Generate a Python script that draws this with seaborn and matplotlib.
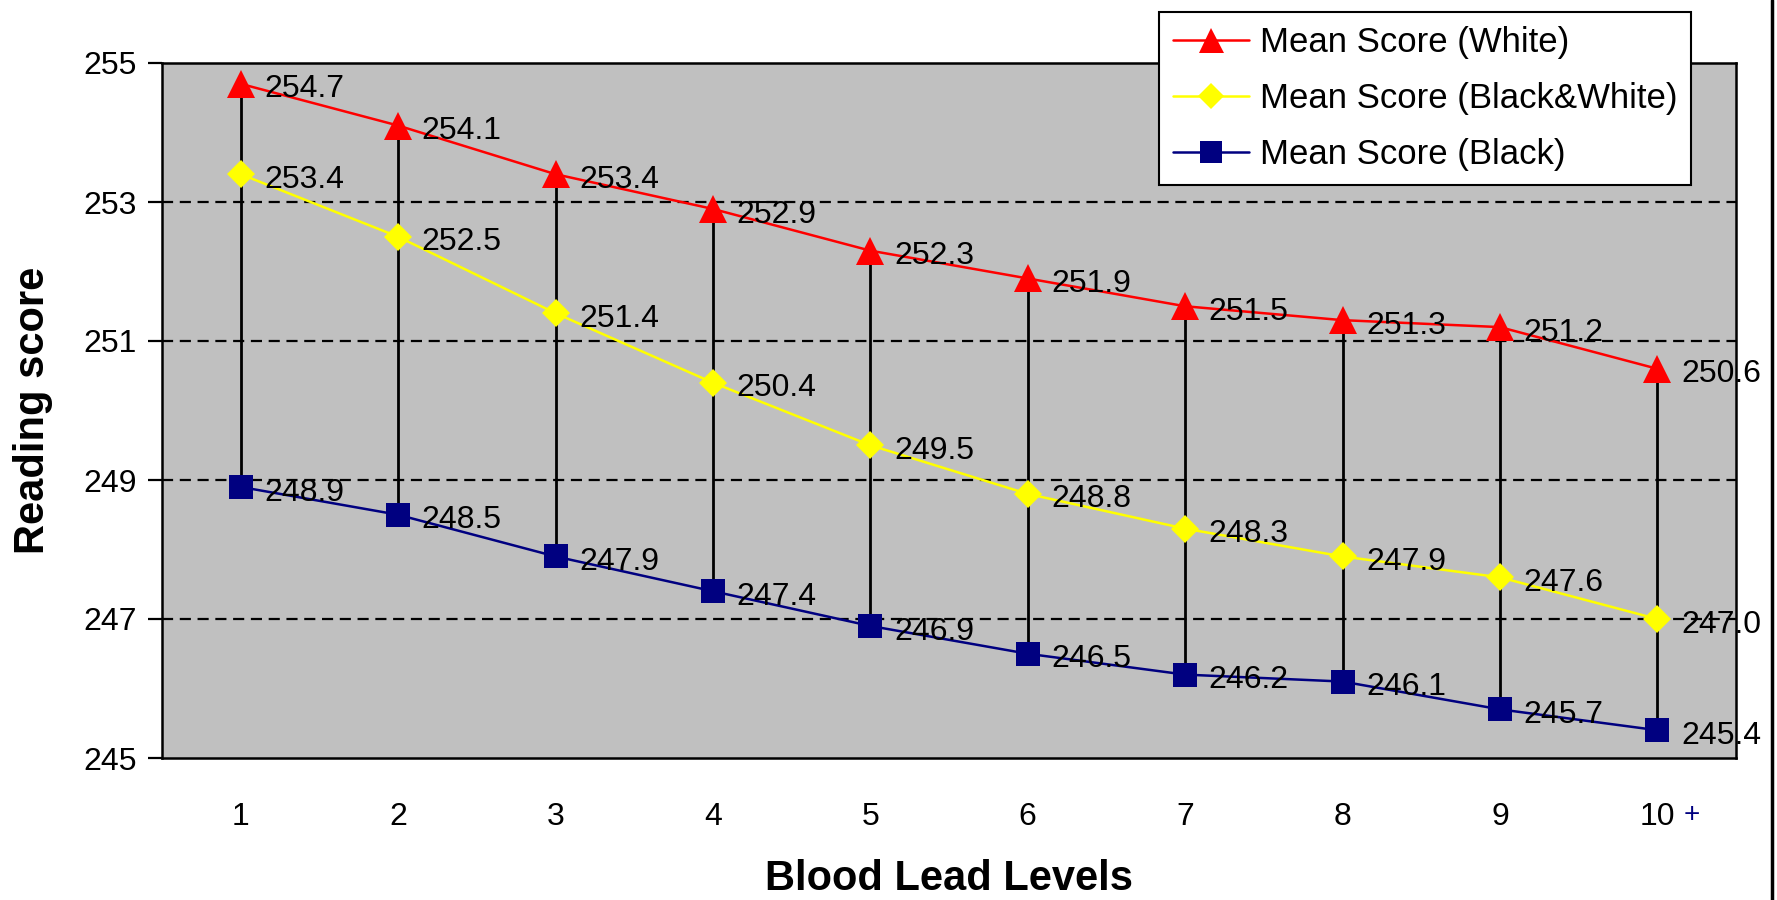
import matplotlib
matplotlib.use("Agg")
import matplotlib.pyplot as plt
from matplotlib.lines import Line2D
import seaborn as sns
import pandas as pd

# Blood lead level groups and mean reading scores
levels = [1, 2, 3, 4, 5, 6, 7, 8, 9, 10]
level_labels = ["1", "2", "3", "4", "5", "6", "7", "8", "9", "10"]
score_white = [254.7, 254.1, 253.4, 252.9, 252.3, 251.9, 251.5, 251.3, 251.2, 250.6]
score_both = [253.4, 252.5, 251.4, 250.4, 249.5, 248.8, 248.3, 247.9, 247.6, 247.0]
score_black = [248.9, 248.5, 247.9, 247.4, 246.9, 246.5, 246.2, 246.1, 245.7, 245.4]
y_ticks = [245, 247, 249, 251, 253, 255]

sns.set_theme(style="white")
plt.rcParams["font.family"] = ["Liberation Sans", "DejaVu Sans"]
for key in ("text.color", "axes.labelcolor", "xtick.color", "ytick.color"):
    plt.rcParams[key] = "black"

fig = plt.figure(figsize=(17.77, 9), dpi=100)
ax = fig.add_axes([162 / 1777, 142 / 900, 1574 / 1777, 695 / 900])
ax.set_facecolor("#C0C0C0")

df = pd.DataFrame({"level": levels, "white": score_white,
                   "both": score_both, "black": score_black})

# dashed horizontal gridlines
for yv in y_ticks[1:-1]:
    ax.axhline(yv, color="black", lw=1.6, ls=(0, (5, 3)), zorder=1)

# high-low lines between the black and white means
ax.vlines(levels, score_black, score_white, color="black", lw=2, zorder=2)

series = [
    ("white", "Mean Score (White)", "#FF0000", "^", 20),
    ("both", "Mean Score (Black&White)", "#FFFF00", "D", 14.5),
    ("black", "Mean Score (Black)", "#000080", "s", 17),
]
for col, label, color, marker, ms in series:
    sns.lineplot(data=df, x="level", y=col, ax=ax, color=color, marker=marker,
                 markersize=ms, markeredgewidth=0, lw=1.8, label=label, zorder=3)
    for xv, yv in zip(df["level"], df[col]):
        ax.annotate(f"{yv:.1f}", (xv, yv), xytext=(17, -4),
                    textcoords="offset points", ha="left", va="center",
                    fontsize=23, color="black", zorder=5)

ax.set_xlim(0.5, 10.5)
ax.set_ylim(245, 255)
ax.set_yticks(y_ticks)
ax.set_yticklabels([str(v) for v in y_ticks], fontsize=23)

# category boundaries carry tick marks, centres carry the labels
ax.set_xticks([v + 0.5 for v in [0] + levels])
ax.set_xticklabels([])
ax.set_xticks(levels, minor=True)
ax.set_xticklabels(level_labels, minor=True, fontsize=23)
ax.tick_params(axis="x", which="major", direction="inout", length=22, width=1.6, color="black")
ax.tick_params(axis="x", which="minor", length=0, pad=32)
ax.tick_params(axis="y", direction="out", length=10, width=1.6, pad=8, color="black", left=True)
ax.annotate("+", (levels[-1], 0), xycoords=("data", "axes fraction"),
            xytext=(19, -41), textcoords="offset points", ha="left", va="center",
            fontsize=20, color="#000080")

for s in ax.spines.values():
    s.set_color("black")
    s.set_linewidth(1.8)

ax.set_xlabel("Blood Lead Levels", fontsize=30, fontweight="bold")
ax.set_ylabel("Reading score", fontsize=30, fontweight="bold")
ax.xaxis.set_label_coords(0.5, -0.146)
ax.yaxis.set_label_coords(-0.069, 0.5)

leg = ax.legend(loc="upper left", bbox_to_anchor=(1159 / 1777, 1 - 12 / 900),
                bbox_transform=fig.transFigure, fontsize=25, frameon=True,
                fancybox=False, handlelength=2.2, handletextpad=0.3,
                labelspacing=0.67, borderpad=0.4, borderaxespad=0,
                markerscale=0.9)
leg.get_frame().set_edgecolor("black")
leg.get_frame().set_linewidth(1.5)
leg.get_frame().set_facecolor("white")
leg.get_frame().set_alpha(1)
leg.set_zorder(10)

fig.add_artist(Line2D([1772 / 1777, 1772 / 1777], [0, 1], color="black", lw=2.5,
                      transform=fig.transFigure))

fig.savefig("out.png", dpi=100, facecolor="white")
